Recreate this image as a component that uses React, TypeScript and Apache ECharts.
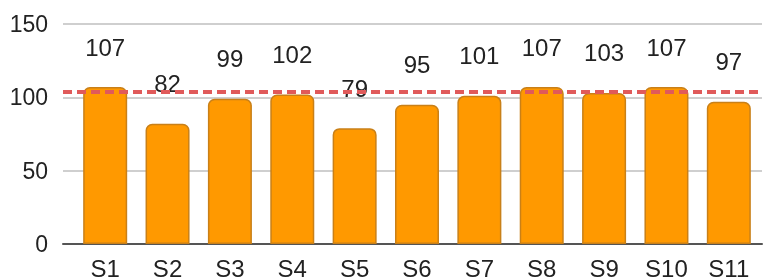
import React, { useEffect, useRef } from "react";
import * as echarts from "echarts";

const categories = ["S1", "S2", "S3", "S4", "S5", "S6", "S7", "S8", "S9", "S10", "S11"];
const values = [107, 82, 99, 102, 79, 95, 101, 107, 103, 107, 97];
const referenceValue = 104;
const yTicks = { min: 0, max: 150, interval: 50 };

export default function App() {
  const ref = useRef<HTMLDivElement>(null);
  useEffect(() => {
    if (!ref.current) return;
    const chart = echarts.init(ref.current, null, { renderer: "svg" });
    const font = "'Liberation Sans', Arial, sans-serif";
    chart.setOption({
      animation: false,
      grid: [
        { left: 63, right: 3, top: 24, bottom: 36 },
        { left: 74, right: 5, top: 24, bottom: 36 },
      ],
      xAxis: [
        {
          type: "value",
          gridIndex: 0,
          min: 0,
          max: 1,
          axisLine: { show: true, onZero: false, lineStyle: { color: "#555", width: 2 } },
          axisTick: { show: false },
          axisLabel: { show: false },
          splitLine: { show: false },
        },
        {
          type: "category",
          gridIndex: 1,
          data: categories,
          axisLine: { show: false },
          axisTick: { show: false },
          axisLabel: { fontSize: 24, color: "#222", margin: 12, fontFamily: font },
        },
      ],
      yAxis: [
        {
          type: "value",
          gridIndex: 0,
          min: yTicks.min,
          max: yTicks.max,
          interval: yTicks.interval,
          axisLine: { show: false },
          axisTick: { show: false },
          axisLabel: { fontSize: 23, color: "#222", margin: 15, fontFamily: font },
          splitLine: { lineStyle: { color: "#cfcfcf", width: 2 } },
        },
        {
          type: "value",
          gridIndex: 1,
          min: yTicks.min,
          max: yTicks.max,
          interval: yTicks.interval,
          show: false,
          splitLine: { show: false },
        },
      ],
      series: [
        {
          type: "line",
          xAxisIndex: 0,
          yAxisIndex: 0,
          data: [],
          silent: true,
          markLine: {
            symbol: "none",
            silent: true,
            label: { show: false },
            lineStyle: { color: "#e05a5a", width: 4, type: [9, 5] },
            data: [{ yAxis: referenceValue }],
          },
        },
        {
          type: "bar",
          xAxisIndex: 1,
          yAxisIndex: 1,
          data: values,
          barWidth: 44,
          itemStyle: {
            color: "#ff9900",
            borderColor: "#c98018",
            borderWidth: 1.5,
            borderRadius: [6, 6, 0, 0],
          },
          label: {
            show: true,
            position: "top",
            distance: 28,
            fontSize: 24,
            color: "#222",
            fontFamily: font,
          },
          z: 3,
        },
      ],
    });
    return () => chart.dispose();
  }, []);
  return (
    <div
      ref={ref}
      style={{ position: "fixed", left: 0, top: 0, width: 765, height: 280 }}
    />
  );
}
